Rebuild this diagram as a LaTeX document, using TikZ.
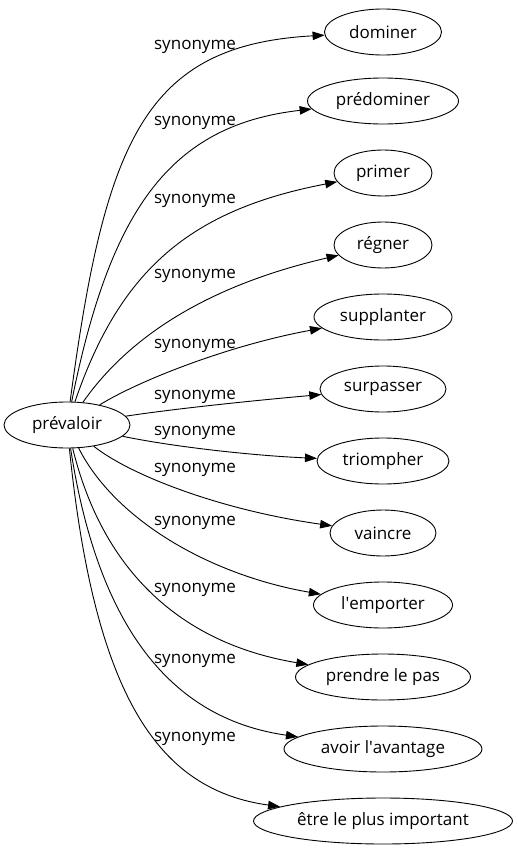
\documentclass[tikz,border=0pt]{standalone}
\usepackage{fontspec}
\setmainfont{Open Sans}
\usetikzlibrary{arrows.meta,shapes.geometric}
\begin{document}
\begin{tikzpicture}[x=1pt,y=-1pt,
  word/.style={draw, ellipse, line width=0.9pt, minimum height=46pt, inner sep=0pt, font=\fontsize{17}{20}\selectfont},
  lab/.style={inner sep=0pt, font=\fontsize{17}{20}\selectfont},
  edge/.style={line width=0.9pt, -{Triangle[length=12pt,width=8.5pt]}}]
\useasboundingbox (0,0) rectangle (517,851);
\node[word, minimum width=126pt] (main) at (67,425) {prévaloir};
\node[word, minimum width=117pt] (n1) at (383,32) {dominer};
\node[word, minimum width=151pt] (n2) at (383,101) {prédominer};
\node[word, minimum width=98pt] (n3) at (383,173) {primer};
\node[word, minimum width=98pt] (n4) at (383,245) {régner};
\node[word, minimum width=138pt] (n5) at (383,317) {supplanter};
\node[word, minimum width=126pt] (n6) at (383,389) {surpasser};
\node[word, minimum width=132pt] (n7) at (383,461) {triompher};
\node[word, minimum width=106pt] (n8) at (383,533) {vaincre};
\node[word, minimum width=139pt] (n9) at (383,605) {l\textquotesingle emporter};
\node[word, minimum width=175pt] (n10) at (383,677) {prendre le pas};
\node[word, minimum width=198pt] (n11) at (383,749) {avoir l\textquotesingle avantage};
\node[word, minimum width=259pt] (n12) at (383,821) {être le plus important};
\node[lab] (l1) at (195,47) {synonyme};
\node[lab] (l2) at (195,123) {synonyme};
\node[lab] (l3) at (195,201) {synonyme};
\node[lab] (l4) at (195,276) {synonyme};
\node[lab] (l5) at (195,346) {synonyme};
\node[lab] (l6) at (195,397) {synonyme};
\node[lab] (l7) at (195,433) {synonyme};
\node[lab] (l8) at (195,470) {synonyme};
\node[lab] (l9) at (195,523) {synonyme};
\node[lab] (l10) at (195,590) {synonyme};
\node[lab] (l11) at (195,661) {synonyme};
\node[lab] (l12) at (195,739) {synonyme};
\draw[edge] (main) .. controls (105,140) and (145,45) .. (n1);
\draw[edge] (main) .. controls (110,210) and (170,125) .. (n2);
\draw[edge] (main) .. controls (120,270) and (190,210) .. (n3);
\draw[edge] (main) .. controls (130,335) and (210,285) .. (n4);
\draw[edge] (main) .. controls (140,380) and (230,345) .. (n5);
\draw[edge] (main) .. controls (180,408) and (260,400) .. (n6);
\draw[edge] (main) .. controls (180,448) and (260,456) .. (n7);
\draw[edge] (main) .. controls (130,475) and (220,510) .. (n8);
\draw[edge] (main) .. controls (115,520) and (210,575) .. (n9);
\draw[edge] (main) .. controls (105,580) and (190,645) .. (n10);
\draw[edge] (main) .. controls (100,640) and (180,720) .. (n11);
\draw[edge] (main) .. controls (95,700) and (160,790) .. (n12);
\end{tikzpicture}
\end{document}
